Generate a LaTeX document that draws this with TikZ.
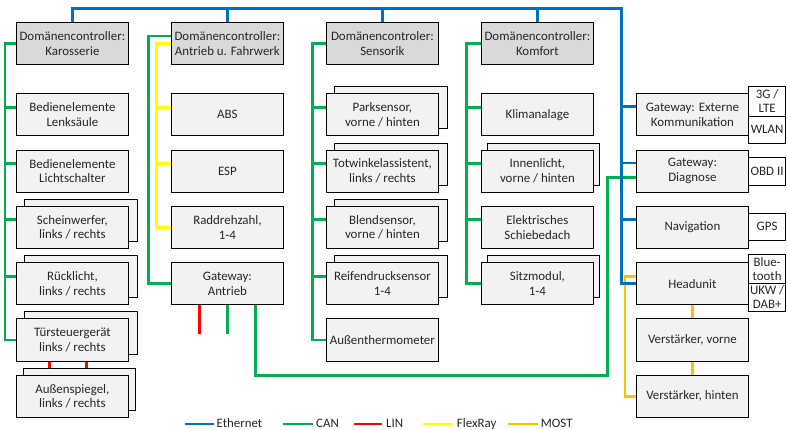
\documentclass[tikz,border=0pt]{standalone}
\usepackage{fontspec}
\setmainfont{Carlito}
\usetikzlibrary{calc,shadows}
\definecolor{ethblue}{HTML}{0070C0}
\definecolor{cangreen}{HTML}{00B050}
\definecolor{linred}{HTML}{FF0000}
\definecolor{flexyellow}{HTML}{FFFF00}
\definecolor{mostorange}{HTML}{FFC000}
\definecolor{boxfill}{HTML}{F2F2F2}
\definecolor{headfill}{HTML}{D9D9D9}
\definecolor{txt}{HTML}{262626}
\pgfdeclarelayer{background}
\pgfsetlayers{background,main}
\begin{document}
\begin{tikzpicture}[x=1pt,y=-1pt,
  box/.style={draw=black, line width=0.9pt, fill=boxfill, minimum width=112.5pt,
    minimum height=42pt, align=center, inner sep=1pt, anchor=north west,
    text=txt, font=\fontsize{12.9}{14.8}\selectfont},
  head/.style={box, fill=headfill},
  stack/.style={copy shadow={shadow xshift=#1, shadow yshift=7pt,
    fill=boxfill, draw=black, line width=0.9pt}},
  stack/.default=8.5pt,
  side/.style={draw=black, line width=0.9pt, fill=white, minimum width=36.7pt,
    align=center, inner sep=0pt, anchor=north west, text=txt,
    font=\fontsize{12.9}{13.8}\selectfont},
  bus/.style={line width=2.9pt},
  eth/.style={bus, draw=ethblue},
  can/.style={bus, draw=cangreen},
  lin/.style={bus, draw=linred},
  flex/.style={bus, draw=flexyellow},
  most/.style={bus, draw=mostorange},
  legtext/.style={anchor=base west, inner sep=0pt, text depth=0pt, text=txt,
    font=\fontsize{12.9}{14.8}\selectfont}
]
\useasboundingbox (0,0) rectangle (787,430);

% Karosserie
\node[head] (kar) at (15.7,22.5) {Domänencontroller:\\Karosserie};
\node[box] (lenk) at (15.7,93.3) {Bedienelemente\\Lenksäule};
\node[box] (licht) at (15.7,149.6) {Bedienelemente\\Lichtschalter};
\node[box,stack] (schw) at (15.7,205.9) {Scheinwerfer,\\links / rechts};
\node[box,stack] (rueck) at (15.7,262.2) {Rücklicht,\\links / rechts};
\node[box,stack] (tuer) at (15.7,318.5) {Türsteuergerät\\links / rechts};
\node[box,stack=7pt] (spg) at (15.7,374.8) {Außenspiegel,\\links / rechts};

% Antrieb und Fahrwerk
\node[head] (ant) at (170.7,22.5) {Domänencontroller:\\Antrieb u. Fahrwerk};
\node[box] (abs) at (170.7,93.3) {ABS};
\node[box] (esp) at (170.7,149.6) {ESP};
\node[box] (rad) at (170.7,205.9) {Raddrehzahl,\\1-4};
\node[box] (gwa) at (170.7,262.2) {Gateway:\\Antrieb};

% Sensorik
\node[head] (sen) at (325.7,22.5) {Domänencontroler:\\Sensorik};
\node[box,stack] (park) at (325.7,93.3) {Parksensor,\\vorne / hinten};
\node[box,stack] (totw) at (325.7,149.6) {Totwinkelassistent,\\links / rechts};
\node[box,stack] (blend) at (325.7,205.9) {Blendsensor,\\vorne / hinten};
\node[box,stack] (reif) at (325.7,262.2) {Reifendrucksensor\\1-4};
\node[box] (therm) at (325.7,318.5) {Außenthermometer};

% Komfort
\node[head] (kom) at (480.7,22.5) {Domänencontroller:\\Komfort};
\node[box] (klima) at (480.7,93.3) {Klimanalage};
\node[box,stack=6pt] (innen) at (480.7,149.6) {Innenlicht,\\vorne / hinten};
\node[box] (dach) at (480.7,205.9) {Elektrisches\\Schiebedach};
\node[box,stack=6pt] (sitz) at (480.7,262.2) {Sitzmodul,\\1-4};

% Gateways, Navigation, Infotainment
\node[box] (ext) at (635.7,93.3) {Gateway: Externe\\Kommunikation};
\node[box] (diag) at (635.7,149.6) {Gateway:\\Diagnose};
\node[box] (navi) at (635.7,205.9) {Navigation};
\node[box] (head) at (635.7,262.2) {Headunit};
\node[box] (vv) at (635.7,318.5) {Verstärker, vorne};
\node[box] (vh) at (635.7,374.8) {Verstärker, hinten};

% Schnittstellen
\node[side, minimum height=29.7pt] (lte) at (748.3,86) {3G /\\LTE};
\node[side, minimum height=27pt] (wlan) at (748.3,115.7) {WLAN};
\node[side, minimum height=27.7pt] (obd) at (748.3,157.3) {OBD II};
\node[side, minimum height=27.3pt] (gps) at (748.3,212.7) {GPS};
\node[side, minimum height=28.4pt] (bt) at (748.3,254.3) {Blue-\\tooth};
\node[side, minimum height=28.3pt] (ukw) at (748.3,282.7) {UKW /\\DAB+};

% Legende
\node[legtext] (lgeth) at (216.5,427.8) {Ethernet};
\node[legtext] (lgcan) at (316,427.8) {CAN};
\node[legtext] (lglin) at (386,427.8) {LIN};
\node[legtext] (lgflex) at (456.7,427.8) {FlexRay};
\node[legtext] (lgmost) at (540.7,427.8) {MOST};

\begin{pgfonlayer}{background}
  % CAN
  \draw[can] (kar.west) -- ++(-10.7,0) |- (tuer.west);
  \foreach \n in {lenk,licht,schw,rueck}
    \draw[can] ($(\n.north west)+(0,14)$) -- ++(-10.7,0);
  \draw[can] ($(ant.north west)+(0,13.5)$) -- ++(-22.4,0) |- (gwa.west);
  \draw[can] (sen.west) -- ++(-13,0) |- (therm.west);
  \foreach \n in {park,totw,blend,reif}
    \draw[can] ($(\n.north west)+(0,14)$) -- ++(-13,0);
  \draw[can] (kom.west) -- ++(-14,0) |- (sitz.west);
  \foreach \n in {klima,innen,dach}
    \draw[can] ($(\n.north west)+(0,14)$) -- ++(-14,0);
  \coordinate (gwacan) at ($(gwa.south)+(0,29)$);
  \draw[can] (gwa.south) -- (gwacan);
  \draw[can] ($(gwa.south)+(28,0)$) -- ++(0,70.8) -| ($(diag.north west)+(-28.4,28)$)
    -- ($(diag.north west)+(0,28)$);
  % LIN
  \coordinate (gwalin) at ($(gwa.south)+(-28,29)$);
  \draw[lin] ($(gwa.south)+(-28,0)$) -- (gwalin);
  \draw[lin] ($(tuer.south)+(-23,0)$) -- ($(spg.north)+(-23,0)$);
  \draw[lin] ($(tuer.south)+(14,0)$) -- ($(spg.north)+(14,-7)$);
  % FlexRay
  \draw[flex] (ant.west) -- ++(-14,0) |- (rad.west);
  \foreach \n in {abs,esp}
    \draw[flex] ($(\n.north west)+(0,14)$) -- ++(-14,0);
  % MOST
  \draw[most] ($(head.north west)+(0,14)$) -- ++(-10.7,0) |- (vh.west);
  \draw[most] (head.south) -- (vv.north);
  \draw[most] (vv.south) -- (vh.north);
  % Ethernet
  \coordinate (busR) at (621.7,8.5);
  \draw[eth] (kar.north) |- (busR) |- (head.west);
  \foreach \n in {ant,sen,kom}
    \draw[eth] (\n.north) -- (\n.north |- busR);
  \foreach \n in {ext,diag,navi}
    \draw[eth] ($(\n.north west)+(0,13.4)$) -- ++(-14,0);
\end{pgfonlayer}

% Legende: Linienmuster
\draw[eth] ($(lgeth.base west)+(-3,-3.8)$) -- ++(-29,0);
\draw[can] ($(lgcan.base west)+(-3,-3.8)$) -- ++(-30,0);
\draw[lin] ($(lglin.base west)+(-4,-3.8)$) -- ++(-28.5,0);
\draw[flex] ($(lgflex.base west)+(-3.4,-3.8)$) -- ++(-30,0);
\draw[most] ($(lgmost.base west)+(-2.4,-3.8)$) -- ++(-30,0);
\end{tikzpicture}
\end{document}
